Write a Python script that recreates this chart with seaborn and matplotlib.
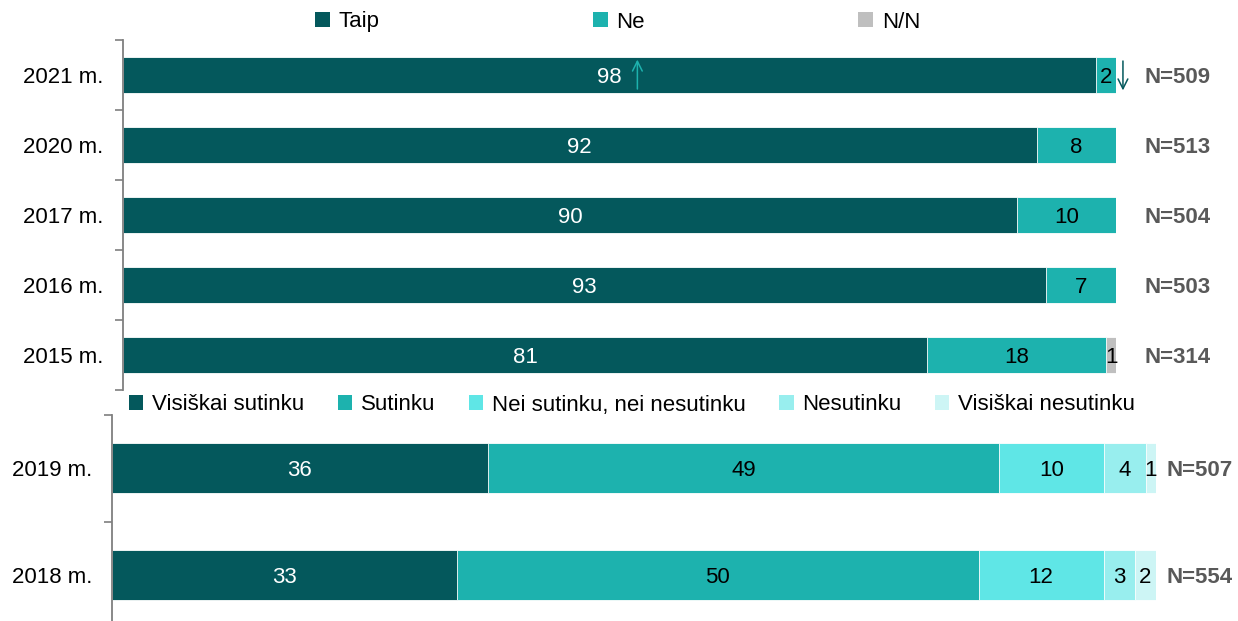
import numpy as np
import pandas as pd
import matplotlib.pyplot as plt
import seaborn as sns
from matplotlib.patches import Patch

# Data
years_top = ["2021 m.", "2020 m.", "2017 m.", "2016 m.", "2015 m."]
taip = [98, 92, 90, 93, 81]
ne = [2, 8, 10, 7, 18]
nn = [0, 0, 0, 0, 1]
n_top = [509, 513, 504, 503, 314]
top_names = ["Taip", "Ne", "N/N"]

years_bottom = ["2019 m.", "2018 m."]
visiskai_sutinku = [36, 33]
sutinku = [49, 50]
nei = [10, 12]
nesutinku = [4, 3]
visiskai_nesutinku = [1, 2]
n_bottom = [507, 554]
bottom_names = ["Visiškai sutinku", "Sutinku", "Nei sutinku, nei nesutinku",
                "Nesutinku", "Visiškai nesutinku"]

top_colors = ["#04585C", "#1DB2AE", "#BFBFBF"]
bottom_colors = ["#04585C", "#1DB2AE", "#5FE6E6", "#98EEEE", "#CDF5F5"]

sns.set_style("white")
plt.rcParams['font.family'] = ['Liberation Sans', 'DejaVu Sans']
plt.rcParams['text.color'] = 'black'
plt.rcParams['ytick.labelcolor'] = 'black'

FS = 16
GRAY = "#7f7f7f"


def stacked(ax, years, parts, names, colors, width, pad):
    df = pd.DataFrame(dict(zip(names, parts)), index=years)
    cum = df.cumsum(axis=1)
    for col, c in reversed(list(zip(df.columns, colors))):
        sns.barplot(x=cum[col].values, y=years, color=c, orient="h", width=width,
                    saturation=1, edgecolor="white", linewidth=0.6, ax=ax)
    # value labels
    for i, yr in enumerate(years):
        for j, col in enumerate(df.columns):
            v = df.loc[yr, col]
            if v <= 0:
                continue
            ax.text(cum.loc[yr, col] - v / 2, i, str(v), ha="center",
                    va="center_baseline", fontsize=FS,
                    color="white" if j == 0 else "black")
    n = len(years)
    ax.set_xlim(0, 100)
    ax.set_ylim(n - 0.5, -0.5)
    ax.set_xticks([])
    ax.set_xlabel("")
    ax.set_ylabel("")
    ax.set_yticks(range(n))
    ax.set_yticklabels(years, fontsize=FS, color="black")
    ax.set_yticks(np.arange(-0.5, n, 1), minor=True)
    ax.tick_params(axis="y", which="major", length=0, pad=pad)
    ax.tick_params(axis="y", which="minor", length=6, width=1.2, color=GRAY, left=True)
    for s in ["top", "right", "bottom"]:
        ax.spines[s].set_visible(False)
    ax.spines["left"].set_color(GRAY)
    ax.spines["left"].set_linewidth(1.3)
    ax.patch.set_alpha(0)


fig = plt.figure(figsize=(12.38, 6.21), dpi=100)

ax1 = fig.add_axes([123 / 1238, 1 - 390 / 621, 993 / 1238, 350 / 621])
stacked(ax1, years_top, [taip, ne, nn], top_names, top_colors, 0.51, 14)
for i, nv in enumerate(n_top):
    ax1.text(102.9, i, f"N={nv}", ha="left", va="center_baseline", fontsize=16,
             fontweight="bold", color="#595959", clip_on=False)

# change arrows for 2021
arrow = "->,head_length=0.7,head_width=0.35"
ax1.annotate("", xy=(taip[0] / 2 + 2.8, -0.22), xytext=(taip[0] / 2 + 2.8, 0.2),
             arrowprops=dict(arrowstyle=arrow, color="#1DB2AE", lw=1.1,
                             shrinkA=0, shrinkB=0))
ax1.annotate("", xy=(100.7, 0.22), xytext=(100.7, -0.2), annotation_clip=False,
             arrowprops=dict(arrowstyle=arrow, color="#04585C", lw=1.1,
                             shrinkA=0, shrinkB=0))

ax2 = fig.add_axes([112 / 1238, 1 - 628.5 / 621, 1044 / 1238, 214 / 621])
stacked(ax2, years_bottom,
        [visiskai_sutinku, sutinku, nei, nesutinku, visiskai_nesutinku],
        bottom_names, bottom_colors, 0.47, 14)
for i, nv in enumerate(n_bottom):
    ax2.text(101.0, i, f"N={nv}", ha="left", va="center_baseline", fontsize=16,
             fontweight="bold", color="#595959", clip_on=False)

# Legends
h_top = [Patch(facecolor=c, edgecolor="none") for c in top_colors]
fig.legend(h_top, top_names, loc="center", bbox_to_anchor=(0.499, 1 - 22 / 621),
           ncol=3, frameon=False, fontsize=FS, handlelength=0.65, handleheight=0.65,
           handletextpad=0.4, columnspacing=9.6)

h_bot = [Patch(facecolor=c, edgecolor="none") for c in bottom_colors]
fig.legend(h_bot, bottom_names, loc="center", bbox_to_anchor=(0.5105, 1 - 405 / 621),
           ncol=5, frameon=True, facecolor="white", edgecolor="none", framealpha=1,
           fontsize=FS, handlelength=0.65, handleheight=0.65, handletextpad=0.4,
           columnspacing=1.5, borderpad=0.1)

fig.savefig("out.png", dpi=100)
